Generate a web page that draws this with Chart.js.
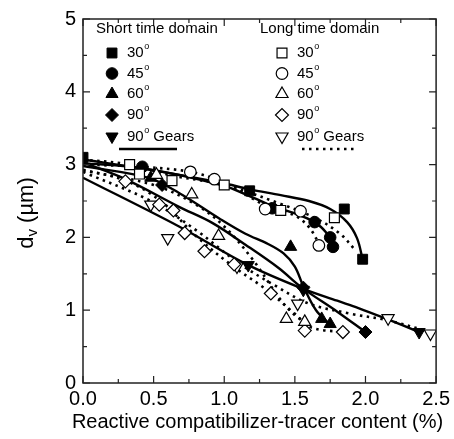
<!DOCTYPE html>
<html>
<head>
<meta charset="utf-8">
<script src="https://cdn.jsdelivr.net/npm/chart.js@4.4.0/dist/chart.umd.min.js"></script>
<style>
  html, body { margin: 0; padding: 0; background: #fff; }
</style>
</head>
<body>
<canvas id="myChart" width="454" height="439"></canvas>
<script>
// Measured points - short time domain (filled symbols)
const short30X = [0.0, 1.18, 1.85, 1.98];
const short30Y = [3.10, 2.64, 2.39, 1.70];
const short45X = [0.42, 1.34, 1.64, 1.75, 1.77];
const short45Y = [2.97, 2.40, 2.21, 2.00, 1.87];
const short60X = [0.48, 1.47, 1.69, 1.75];
const short60Y = [2.82, 1.87, 0.88, 0.81];
const short90X = [0.56, 1.56, 2.00];
const short90Y = [2.72, 1.31, 0.70];
const shortGearsX = [1.17, 1.56, 2.38];
const shortGearsY = [1.62, 1.28, 0.70];

// Measured points - long time domain (open symbols)
const long30X = [0.33, 0.40, 0.63, 1.00, 1.40, 1.78];
const long30Y = [3.00, 2.87, 2.78, 2.72, 2.37, 2.27];
const long45X = [0.76, 0.93, 1.29, 1.54, 1.67];
const long45Y = [2.90, 2.80, 2.39, 2.36, 1.89];
const long60X = [0.52, 0.77, 0.96, 1.44, 1.57];
const long60Y = [2.86, 2.59, 2.02, 0.88, 0.84];
const long90X = [0.30, 0.54, 0.64, 0.72, 0.86, 1.07, 1.33, 1.57, 1.84];
const long90Y = [2.77, 2.45, 2.37, 2.06, 1.81, 1.63, 1.23, 0.72, 0.70];
const longGearsX = [0.48, 0.60, 1.09, 1.52, 2.16, 2.46];
const longGearsY = [2.45, 1.99, 1.60, 1.09, 0.89, 0.68];

// Fitted curves - solid (short time)
const fit30ShortX = [0.0, 0.5, 0.98, 1.18, 1.40, 1.60, 1.75, 1.87, 1.94, 1.98];
const fit30ShortY = [3.07, 2.92, 2.75, 2.66, 2.58, 2.50, 2.39, 2.21, 1.99, 1.70];
const fit45ShortX = [0.0, 0.42, 0.98, 1.20, 1.34, 1.50, 1.63, 1.72, 1.77];
const fit45ShortY = [3.02, 2.95, 2.72, 2.55, 2.43, 2.33, 2.22, 2.07, 1.87];
const fit60ShortX = [0.0, 0.46, 0.68, 0.965, 1.15, 1.31, 1.42, 1.50, 1.56, 1.65, 1.75];
const fit60ShortY = [2.98, 2.82, 2.61, 2.26, 2.05, 1.91, 1.78, 1.60, 1.33, 1.00, 0.80];
const fit90ShortX = [0.0, 0.30, 0.68, 0.915, 1.15, 1.385, 1.55, 1.80, 2.00];
const fit90ShortY = [3.03, 2.80, 2.42, 2.20, 1.90, 1.58, 1.31, 0.98, 0.70];
const fitGearsShortX = [0.0, 0.68, 1.16, 1.55, 1.80, 1.95, 2.15, 2.38];
const fitGearsShortY = [2.82, 2.15, 1.63, 1.30, 1.13, 1.03, 0.88, 0.70];

// Fitted curves - dotted (long time)
const fit30LongX = [0.0, 0.33, 0.63, 1.00, 1.40, 1.65, 1.82, 1.93];
const fit30LongY = [3.07, 3.00, 2.85, 2.72, 2.46, 2.26, 2.05, 1.82];
const fit45LongX = [0.0, 0.40, 0.76, 1.00, 1.30, 1.50, 1.60, 1.67];
const fit45LongY = [3.00, 2.97, 2.90, 2.75, 2.43, 2.30, 2.14, 1.92];
const fit60LongX = [0.0, 0.50, 0.80, 1.00, 1.20, 1.40, 1.50, 1.57];
const fit60LongY = [2.92, 2.72, 2.45, 2.15, 1.70, 1.14, 0.93, 0.84];
const fit90LongX = [0.0, 0.30, 0.55, 0.80, 1.05, 1.30, 1.50, 1.62, 1.84];
const fit90LongY = [2.93, 2.78, 2.50, 2.02, 1.62, 1.28, 0.95, 0.76, 0.70];
const fitGearsLongX = [0.0, 0.48, 0.80, 1.10, 1.35, 1.60, 1.90, 2.16, 2.46];
const fitGearsLongY = [2.90, 2.50, 2.10, 1.65, 1.35, 1.09, 0.95, 0.86, 0.70];

const xTicks = [0, 0.5, 1.0, 1.5, 2.0, 2.5];
const yTicks = [0, 1, 2, 3, 4, 5];

const legendShort = ['30', '45', '60', '90', '90'];
const legendExtra = ['', '', '', '', ' Gears'];

const FONT = '"Liberation Sans", Arial, Helvetica, sans-serif';

function toXY(xs, ys) {
    return xs.map((x, i) => ({ x: x, y: ys[i] }));
}

function fitLine(xs, ys, dotted) {
    return {
        data: toXY(xs, ys),
        showLine: true,
        pointRadius: 0,
        borderColor: '#000',
        borderWidth: dotted ? 2.6 : 2.4,
        borderDash: dotted ? [2.5, 4.5] : [],
        tension: 0.35,
        fill: false,
        order: 2
    };
}

// symbol styles, shared with the legend
const symbols = [
    { pointStyle: 'rect', radius: 7, rotation: 0 },
    { pointStyle: 'circle', radius: 5.8, rotation: 0 },
    { pointStyle: 'triangle', radius: 7, rotation: 0 },
    { pointStyle: 'rectRot', radius: 6.5, rotation: 0 },
    { pointStyle: 'triangle', radius: 7, rotation: 180 }
];

function points(xs, ys, idx, filled) {
    const s = symbols[idx];
    return {
        data: toXY(xs, ys),
        showLine: false,
        pointStyle: s.pointStyle,
        pointRadius: s.radius,
        pointRotation: s.rotation,
        backgroundColor: filled ? '#000' : '#fff',
        borderColor: '#000',
        borderWidth: filled ? 1 : 1.2,
        order: 1
    };
}

const datasets = [
    fitLine(fit30ShortX, fit30ShortY, false),
    fitLine(fit45ShortX, fit45ShortY, false),
    fitLine(fit60ShortX, fit60ShortY, false),
    fitLine(fit90ShortX, fit90ShortY, false),
    fitLine(fitGearsShortX, fitGearsShortY, false),
    fitLine(fit30LongX, fit30LongY, true),
    fitLine(fit45LongX, fit45LongY, true),
    fitLine(fit60LongX, fit60LongY, true),
    fitLine(fit90LongX, fit90LongY, true),
    fitLine(fitGearsLongX, fitGearsLongY, true),
    points(long30X, long30Y, 0, false),
    points(long45X, long45Y, 1, false),
    points(long60X, long60Y, 2, false),
    points(long90X, long90Y, 3, false),
    points(longGearsX, longGearsY, 4, false),
    points(short30X, short30Y, 0, true),
    points(short45X, short45Y, 1, true),
    points(short60X, short60Y, 2, true),
    points(short90X, short90Y, 3, true),
    points(shortGearsX, shortGearsY, 4, true)
];

function drawSymbol(ctx, idx, x, y, filled) {
    const s = symbols[idx];
    ctx.save();
    ctx.fillStyle = filled ? '#000' : '#fff';
    ctx.strokeStyle = '#000';
    ctx.lineWidth = filled ? 1 : 1.2;
    Chart.helpers.drawPoint(ctx, {
        pointStyle: s.pointStyle,
        radius: s.radius,
        rotation: s.rotation,
        borderWidth: ctx.lineWidth
    }, x, y);
    ctx.restore();
}

function degreeText(ctx, num, extra, x, y) {
    ctx.font = '15px ' + FONT;
    ctx.fillText(num, x, y);
    let w = ctx.measureText(num).width;
    ctx.font = '9px ' + FONT;
    ctx.fillText('o', x + w + 0.5, y - 6);
    w += ctx.measureText('o').width + 0.5;
    if (extra) {
        ctx.font = '15px ' + FONT;
        ctx.fillText(extra, x + w, y);
    }
}

// box, inward ticks, legend and axis titles
const framePlugin = {
    id: 'frame',
    afterDraw(chart) {
        const ctx = chart.ctx;
        const a = chart.chartArea;
        const xs = chart.scales.x;
        const ys = chart.scales.y;
        ctx.save();
        ctx.strokeStyle = '#222';
        ctx.lineWidth = 1.5;
        ctx.strokeRect(a.left, a.top, a.right - a.left, a.bottom - a.top);

        ctx.lineWidth = 1.2;
        ctx.beginPath();
        for (let v = 0; v <= 2.5001; v += 0.25) {
            const px = xs.getPixelForValue(v);
            const len = (Math.round(v * 4) % 2 === 0) ? 7 : 4;
            ctx.moveTo(px, a.bottom); ctx.lineTo(px, a.bottom - len);
            ctx.moveTo(px, a.top); ctx.lineTo(px, a.top + len);
        }
        for (let v = 0; v <= 5.001; v += 0.5) {
            const py = ys.getPixelForValue(v);
            const len = (Math.round(v * 2) % 2 === 0) ? 7 : 4;
            ctx.moveTo(a.left, py); ctx.lineTo(a.left + len, py);
            ctx.moveTo(a.right, py); ctx.lineTo(a.right - len, py);
        }
        ctx.stroke();

        // legend
        ctx.fillStyle = '#000';
        ctx.textBaseline = 'middle';
        ctx.textAlign = 'left';
        ctx.font = '15px ' + FONT;
        ctx.fillText('Short time domain', 96, 29);
        ctx.fillText('Long time domain', 260, 29);
        const rows = [53, 73.5, 94, 115, 136.5];
        rows.forEach((ry, i) => {
            drawSymbol(ctx, i, 112, ry, true);
            drawSymbol(ctx, i, 282, ry, false);
            ctx.fillStyle = '#000';
            degreeText(ctx, legendShort[i], legendExtra[i], 127, ry);
            degreeText(ctx, legendShort[i], legendExtra[i], 297, ry);
        });
        ctx.strokeStyle = '#000';
        ctx.lineWidth = 2.4;
        ctx.beginPath();
        ctx.moveTo(119, 149); ctx.lineTo(177, 149);
        ctx.stroke();
        ctx.setLineDash([2.5, 4.5]);
        ctx.lineWidth = 2.6;
        ctx.beginPath();
        ctx.moveTo(302, 149); ctx.lineTo(356, 149);
        ctx.stroke();
        ctx.setLineDash([]);

        // axis titles
        ctx.fillStyle = '#000';
        ctx.textAlign = 'center';
        ctx.textBaseline = 'alphabetic';
        ctx.font = '20px ' + FONT;
        ctx.fillText('Reactive compatibilizer-tracer content (%)', (a.left + a.right) / 2 - 2, 428);

        ctx.translate(33, 213);
        ctx.rotate(-Math.PI / 2);
        ctx.textAlign = 'left';
        ctx.font = '22px ' + FONT;
        const dW = ctx.measureText('d').width;
        ctx.font = '15px ' + FONT;
        const vW = ctx.measureText('v').width;
        ctx.font = '22px ' + FONT;
        const restW = ctx.measureText(' (\u00b5m)').width;
        const total = dW + vW + restW;
        let cx = -total / 2;
        ctx.fillText('d', cx, 0);
        cx += dW;
        ctx.font = '15px ' + FONT;
        ctx.fillText('v', cx, 4);
        cx += vW;
        ctx.font = '22px ' + FONT;
        ctx.fillText(' (\u00b5m)', cx, 0);
        ctx.restore();
    }
};

const ctx = document.getElementById('myChart').getContext('2d');
new Chart(ctx, {
    type: 'scatter',
    data: { datasets: datasets },
    options: {
        responsive: false,
        animation: false,
        devicePixelRatio: 1,
        layout: { padding: { left: 0, top: 16, right: 15, bottom: 0 } },
        plugins: {
            legend: { display: false },
            tooltip: { enabled: false }
        },
        scales: {
            x: {
                type: 'linear',
                min: 0,
                max: 2.5,
                afterBuildTicks: (scale) => { scale.ticks = xTicks.map(v => ({ value: v })); },
                afterFit: (scale) => { scale.height = 56; },
                grid: { display: false, drawTicks: false },
                border: { display: false },
                ticks: {
                    color: '#000',
                    padding: 4,
                    maxRotation: 0,
                    autoSkip: false,
                    font: { size: 20, family: FONT },
                    callback: (v) => Number(v).toFixed(1)
                }
            },
            y: {
                type: 'linear',
                min: 0,
                max: 5,
                afterBuildTicks: (scale) => { scale.ticks = yTicks.map(v => ({ value: v })); },
                afterFit: (scale) => { scale.width = 83; },
                grid: { display: false, drawTicks: false },
                border: { display: false },
                ticks: {
                    color: '#000',
                    padding: 7,
                    autoSkip: false,
                    font: { size: 20, family: FONT },
                    callback: (v) => String(v)
                }
            }
        }
    },
    plugins: [framePlugin]
});
</script>
</body>
</html>
